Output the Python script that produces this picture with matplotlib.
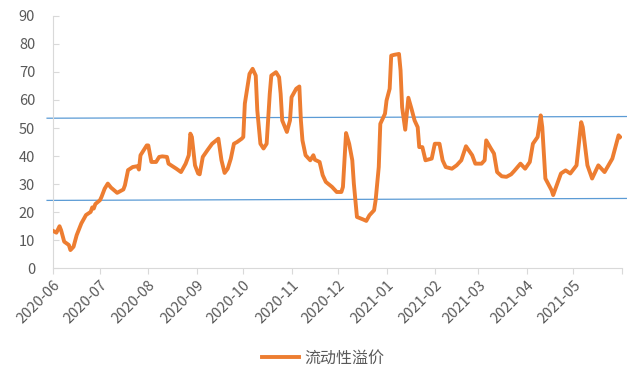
import matplotlib
matplotlib.use("Agg")
import matplotlib.pyplot as plt
import numpy as np
import pandas as pd

# Liquidity premium series.
dates = [
    "2020-06-01", "2020-06-03", "2020-06-05", "2020-06-06", "2020-06-08", "2020-06-11",
    "2020-06-12", "2020-06-14", "2020-06-16", "2020-06-19", "2020-06-22", "2020-06-25",
    "2020-06-26", "2020-06-27", "2020-06-28", "2020-07-01", "2020-07-02", "2020-07-04",
    "2020-07-06", "2020-07-08", "2020-07-12", "2020-07-16", "2020-07-17", "2020-07-19",
    "2020-07-22", "2020-07-25", "2020-07-26", "2020-07-27", "2020-07-31", "2020-08-01",
    "2020-08-03", "2020-08-06", "2020-08-08", "2020-08-10", "2020-08-13", "2020-08-14",
    "2020-08-19", "2020-08-22", "2020-08-25", "2020-08-27", "2020-08-28", "2020-08-29",
    "2020-08-31", "2020-09-02", "2020-09-03", "2020-09-05", "2020-09-08", "2020-09-11",
    "2020-09-15", "2020-09-17", "2020-09-19", "2020-09-21", "2020-09-23", "2020-09-25",
    "2020-09-27", "2020-09-30", "2020-10-01", "2020-10-02", "2020-10-03", "2020-10-05",
    "2020-10-07", "2020-10-09", "2020-10-10", "2020-10-12", "2020-10-14", "2020-10-16",
    "2020-10-18", "2020-10-19", "2020-10-22", "2020-10-24", "2020-10-25", "2020-10-26",
    "2020-10-29", "2020-10-31", "2020-11-01", "2020-11-04", "2020-11-06", "2020-11-07",
    "2020-11-08", "2020-11-10", "2020-11-13", "2020-11-15", "2020-11-16", "2020-11-19",
    "2020-11-21", "2020-11-23", "2020-11-27", "2020-11-30", "2020-12-03", "2020-12-04",
    "2020-12-06", "2020-12-08", "2020-12-10", "2020-12-11", "2020-12-13", "2020-12-17",
    "2020-12-19", "2020-12-21", "2020-12-24", "2020-12-25", "2020-12-27", "2020-12-28",
    "2020-12-31", "2021-01-01", "2021-01-03", "2021-01-04", "2021-01-06", "2021-01-09",
    "2021-01-10", "2021-01-11", "2021-01-13", "2021-01-15", "2021-01-17", "2021-01-19",
    "2021-01-21", "2021-01-22", "2021-01-24", "2021-01-26", "2021-01-30", "2021-02-01",
    "2021-02-04", "2021-02-06", "2021-02-08", "2021-02-12", "2021-02-15", "2021-02-18",
    "2021-02-21", "2021-02-25", "2021-02-27", "2021-03-03", "2021-03-05", "2021-03-06",
    "2021-03-09", "2021-03-11", "2021-03-13", "2021-03-16", "2021-03-19", "2021-03-22",
    "2021-03-24", "2021-03-28", "2021-03-31", "2021-04-03", "2021-04-05", "2021-04-08",
    "2021-04-10", "2021-04-11", "2021-04-13", "2021-04-17", "2021-04-18", "2021-04-23",
    "2021-04-26", "2021-04-29", "2021-05-03", "2021-05-06", "2021-05-07", "2021-05-10",
    "2021-05-13", "2021-05-17", "2021-05-21", "2021-05-26", "2021-05-28", "2021-05-30",
    "2021-05-31",
]
premium = [
    13.3, 12.7, 15.0, 13.6, 9.5, 8.3,
    6.5, 7.7, 11.8, 16.0, 19.0, 20.1,
    21.7, 21.3, 22.9, 24.3, 25.5, 28.4,
    30.2, 28.8, 26.9, 28.1, 29.6, 35.0,
    36.1, 36.4, 35.2, 40.3, 43.8, 43.8,
    37.9, 37.9, 39.7, 39.9, 39.7, 37.3,
    35.5, 34.3, 37.3, 40.3, 48.0, 46.8,
    36.7, 33.8, 33.5, 39.7, 42.1, 44.4,
    46.2, 38.5, 34.0, 35.5, 39.1, 44.4,
    45.0, 46.2, 46.8, 58.7, 62.2, 69.3,
    71.1, 68.7, 56.3, 44.4, 42.7, 44.4,
    62.2, 68.7, 69.9, 68.1, 62.2, 52.7,
    48.6, 52.7, 61.0, 64.0, 64.8, 52.7,
    45.6, 40.3, 38.5, 40.3, 38.7, 37.9,
    33.2, 30.8, 29.0, 27.2, 27.2, 29.0,
    48.2, 44.4, 38.5, 30.2, 18.3, 17.4,
    16.9, 18.9, 20.7, 24.3, 36.1, 51.5,
    55.1, 59.8, 64.0, 75.8, 76.1, 76.4,
    70.5, 57.4, 49.4, 60.8, 56.9, 52.7,
    50.3, 43.2, 43.2, 38.5, 39.1, 44.4,
    44.4, 38.5, 36.1, 35.5, 36.7, 38.5,
    43.5, 40.3, 37.3, 37.3, 38.5, 45.6,
    42.7, 40.9, 34.3, 32.8, 32.6, 33.5,
    34.7, 37.3, 35.5, 37.9, 44.4, 46.8,
    54.5, 50.3, 32.0, 27.8, 26.1, 33.8,
    34.9, 33.8, 36.7, 52.1, 50.3, 36.7,
    32.0, 36.7, 34.3, 39.1, 43.2, 47.4,
    46.8,
]

# Two reference lines (start/end values), slightly sloped as in the source.
band_dates = ["2020-05-28", "2021-06-04"]
upper_band = [53.5, 54.1]
lower_band = [24.2, 24.9]

month_ticks = pd.date_range("2020-06-01", "2021-06-01", freq="MS")
month_labels = [d.strftime("%Y-%m") for d in month_ticks[:-1]] + [""]

series_name = "流动性溢价"


def main():
    plt.rcParams["font.family"] = ["Noto Sans CJK SC", "DejaVu Sans"]

    fig = plt.figure(figsize=(6.3, 3.76), dpi=100)
    ax = fig.add_axes([0.0846, 0.2864, 0.9022, 0.6716])

    x = pd.to_datetime(dates)
    ax.plot(x, premium, color="#ED7D31", linewidth=2.8, solid_joinstyle="round",
            label=series_name, zorder=3)

    bx = pd.to_datetime(band_dates)
    ax.plot(bx, upper_band, color="#5B9BD5", linewidth=0.9, clip_on=False, zorder=2)
    ax.plot(bx, lower_band, color="#5B9BD5", linewidth=0.9, clip_on=False, zorder=2)

    # Axes styling.
    ax.set_xlim(month_ticks[0], month_ticks[-1])
    ax.set_ylim(0, 90)
    ax.set_yticks(np.arange(0, 91, 10))
    ax.set_xticks(month_ticks)
    ax.set_xticklabels(month_labels, rotation=45, ha="right", rotation_mode="anchor")

    for side in ["top", "right"]:
        ax.spines[side].set_visible(False)
    ax.spines["left"].set_color("#D9D9D9")
    ax.spines["bottom"].set_color("#D9D9D9")
    ax.tick_params(axis="y", direction="in", length=4, color="#D9D9D9",
                   labelcolor="#595959", labelsize=10.5, pad=13)
    ax.tick_params(axis="x", direction="out", length=4, color="#D9D9D9",
                   labelcolor="#595959", labelsize=10.5, pad=3)

    fig.legend(loc="center", bbox_to_anchor=(0.513, 0.048), frameon=False,
               handlelength=2.3, handletextpad=0.3, fontsize=11.5,
               labelcolor="#595959")

    plt.savefig("out.png", dpi=100)


if __name__ == "__main__":
    main()
